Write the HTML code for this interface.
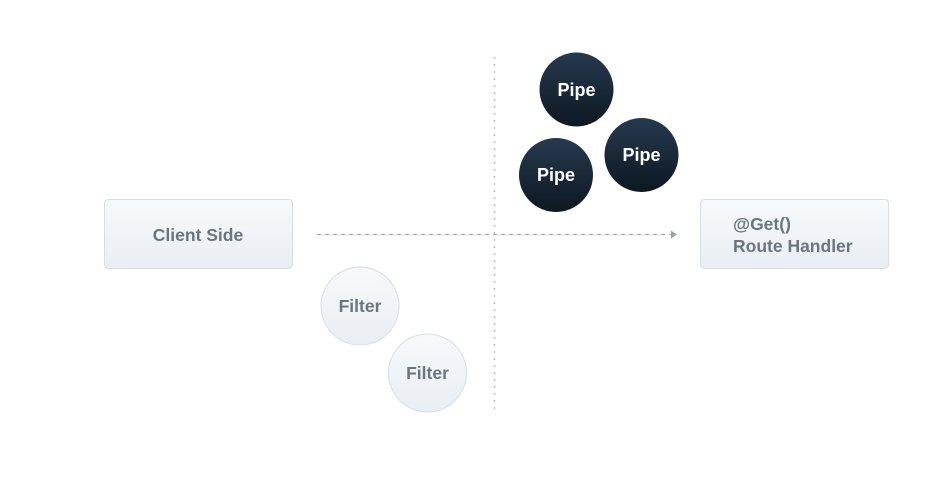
<!DOCTYPE html>
<html><head><meta charset="utf-8"><style>
html,body{margin:0;padding:0;background:#fff;width:927px;height:487px;overflow:hidden}
svg text{font-family:"Liberation Sans",sans-serif;font-weight:bold}
</style></head><body>
<svg width="927" height="487" viewBox="0 0 927 487">
<defs>
<linearGradient id="lg" x1="0" y1="0" x2="0" y2="1"><stop offset="0" stop-color="#f7f9fb"/><stop offset="1" stop-color="#e9eef4"/></linearGradient>
<linearGradient id="dg" x1="0" y1="0" x2="0" y2="1"><stop offset="0" stop-color="#263a4e"/><stop offset="1" stop-color="#0d1822"/></linearGradient>
</defs>
<line x1="494.5" y1="57" x2="494.5" y2="409" stroke="#b8bfc6" stroke-width="1.5" stroke-dasharray="2,5"/>
<line x1="317" y1="234.5" x2="671" y2="234.5" stroke="#9aa3ab" stroke-width="1" stroke-dasharray="4,4"/>
<polygon points="671,230.5 677,234.5 671,238.5" fill="#9aa3ab"/>
<rect x="104.5" y="199.5" width="188" height="69" rx="4" fill="url(#lg)" stroke="#d6dde4"/>
<text x="198" y="241" text-anchor="middle" font-size="17.5" fill="#6b7580">Client Side</text>
<rect x="700.5" y="199.5" width="188" height="69" rx="4" fill="url(#lg)" stroke="#d6dde4"/>
<text x="733" y="230" font-size="17.5" fill="#6b7580">@Get()</text>
<text x="733" y="252" font-size="17.5" fill="#6b7580">Route Handler</text>
<circle cx="360" cy="306" r="39" fill="url(#lg)" stroke="#d6dde4"/>
<text x="360" y="312" text-anchor="middle" font-size="17.5" fill="#6b7580">Filter</text>
<circle cx="427.5" cy="373" r="39" fill="url(#lg)" stroke="#d6dde4"/>
<text x="427.5" y="379" text-anchor="middle" font-size="17.5" fill="#6b7580">Filter</text>
<circle cx="576.5" cy="89.5" r="37" fill="url(#dg)"/>
<text x="576.5" y="96" text-anchor="middle" font-size="18" fill="#fff">Pipe</text>
<circle cx="556" cy="175" r="37" fill="url(#dg)"/>
<text x="556" y="181" text-anchor="middle" font-size="18" fill="#fff">Pipe</text>
<circle cx="641.5" cy="155" r="37" fill="url(#dg)"/>
<text x="641.5" y="161" text-anchor="middle" font-size="18" fill="#fff">Pipe</text>
</svg>
</body></html>
